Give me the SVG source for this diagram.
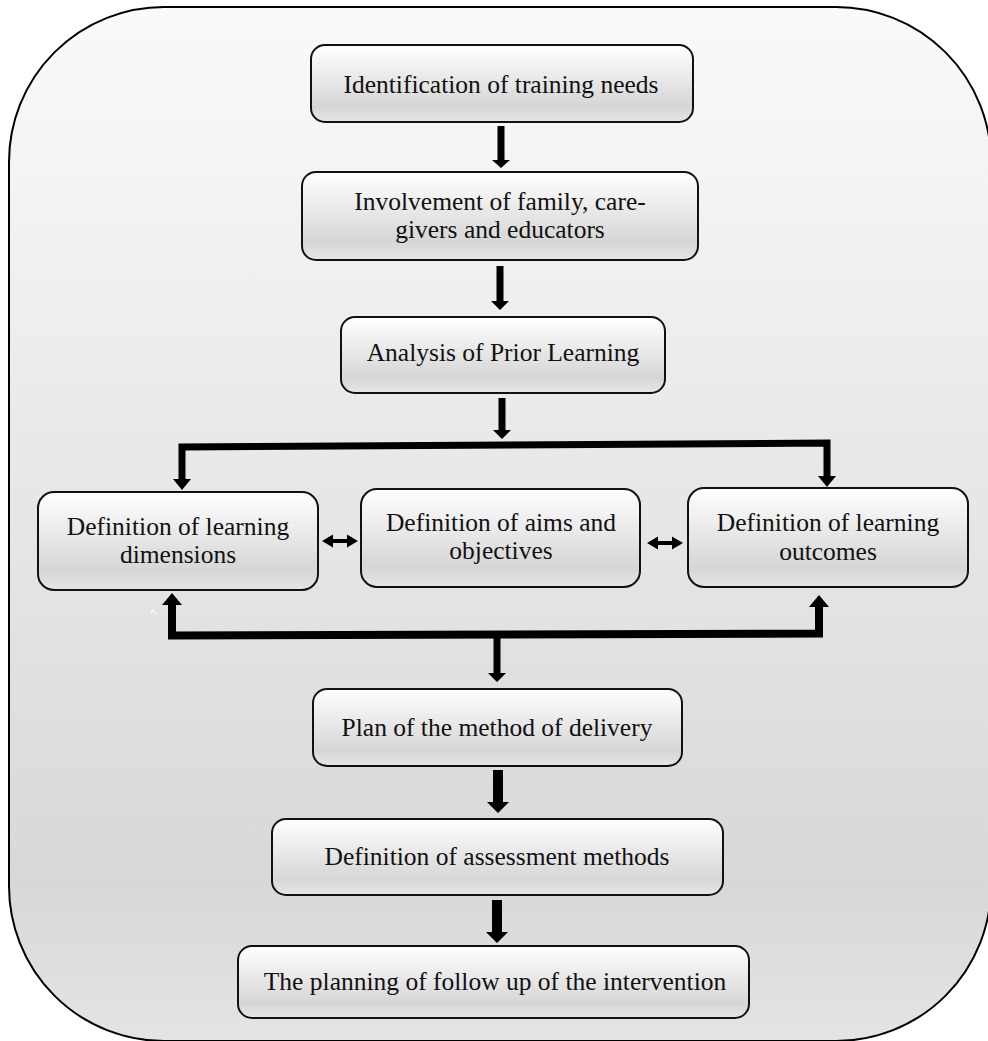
<svg xmlns="http://www.w3.org/2000/svg" width="988" height="1041" viewBox="0 0 988 1041">
<defs>
<linearGradient id="bg" x1="0" y1="0" x2="0" y2="1">
<stop offset="0" stop-color="#fafafa"/>
<stop offset="0.85" stop-color="#d8d8d8"/>
<stop offset="1" stop-color="#e4e4e4"/>
</linearGradient>
<linearGradient id="box" x1="0" y1="0" x2="0" y2="1">
<stop offset="0" stop-color="#ffffff"/>
<stop offset="0.8" stop-color="#d6d6d6"/>
<stop offset="1" stop-color="#e6e6e6"/>
</linearGradient>
<style>
.node rect{fill:url(#box);stroke:#111;stroke-width:2}
.node text{font-family:"Liberation Serif","Times New Roman",serif;font-size:25.5px;fill:#111;text-anchor:middle}
.bar{fill:none;stroke:#000;stroke-width:7;stroke-linejoin:miter}
.head{fill:#000}
</style>
</defs>
<rect x="9" y="7" width="982" height="1034" rx="155" ry="155" fill="url(#bg)" stroke="#000" stroke-width="2"/>
<g id="connectors">
<polygon class="head" points="497.5,126 504.5,126 504.5,160 510,160 501,168 492,160 497.5,160"/>
<polygon class="head" points="496.5,266 503.5,266 503.5,301 509,301 500,310 491,301 496.5,301"/>
<polygon class="head" points="498.5,398 505.5,398 505.5,430 511,430 502,439 493,430 498.5,430"/>
<path class="bar" d="M182,481 L182,447 L827,443 L827,478"/>
<polygon class="head" points="173,479 191,479 182,490"/>
<polygon class="head" points="818,476 836,476 827,487"/>
<path class="bar" d="M172,604 L172,635.5 L819,633.5 L819,606" style="stroke-width:8"/>
<polygon class="head" points="162,605 182,605 172,593"/>
<polygon class="head" points="809,607 829,607 819,595"/>
<polygon class="head" points="493.5,637 500.5,637 500.5,673 506,673 497,682 488,673 493.5,673"/>
<polygon class="head" points="493,770 503,770 503,802 509,802 498,813 487,802 493,802"/>
<polygon class="head" points="492,900 502,900 502,932 508,932 497,943 486,932 492,932"/>
<polygon class="head" points="322,541 333,534.5 333,539 347,539 347,534.5 358,541 347,547.5 347,543 333,543 333,547.5"/>
<polygon class="head" points="647,543 658,536.5 658,541 672,541 672,536.5 683,543 672,549.5 672,545 658,545 658,549.5"/>
</g>
<g id="n1" class="node"><rect x="311" y="45" width="382" height="77" rx="14"/><text x="501" y="93">Identification of training needs</text></g>
<g id="n2" class="node"><rect x="302" y="172" width="396" height="88" rx="14"/><text x="500" y="210">Involvement of family, care-</text><text x="500" y="238">givers and educators</text></g>
<g id="n3" class="node"><rect x="341" y="317" width="324" height="76" rx="14"/><text x="503" y="361">Analysis of Prior Learning</text></g>
<g id="n4" class="node"><rect x="38" y="492" width="280" height="98" rx="16"/><text x="178" y="535">Definition of learning</text><text x="178" y="563">dimensions</text></g>
<g id="n5" class="node"><rect x="361" y="489" width="279" height="98" rx="16"/><text x="501" y="531">Definition of aims and</text><text x="501" y="559">objectives</text></g>
<g id="n6" class="node"><rect x="688" y="488" width="280" height="99" rx="16"/><text x="828" y="531">Definition of learning</text><text x="828" y="560">outcomes</text></g>
<g id="n7" class="node"><rect x="313" y="689" width="369" height="77" rx="14"/><text x="497" y="736">Plan of the method of delivery</text></g>
<g id="n8" class="node"><rect x="272" y="819" width="451" height="76" rx="14"/><text x="497" y="865">Definition of assessment methods</text></g>
<g id="n9" class="node"><rect x="238" y="946" width="511" height="72" rx="14"/><text x="495" y="990">The planning of follow up of the intervention</text></g>
<text x="153" y="618" font-family="Liberation Sans, Arial, sans-serif" font-size="12" fill="#ffffff" text-anchor="middle">^</text>
</svg>
